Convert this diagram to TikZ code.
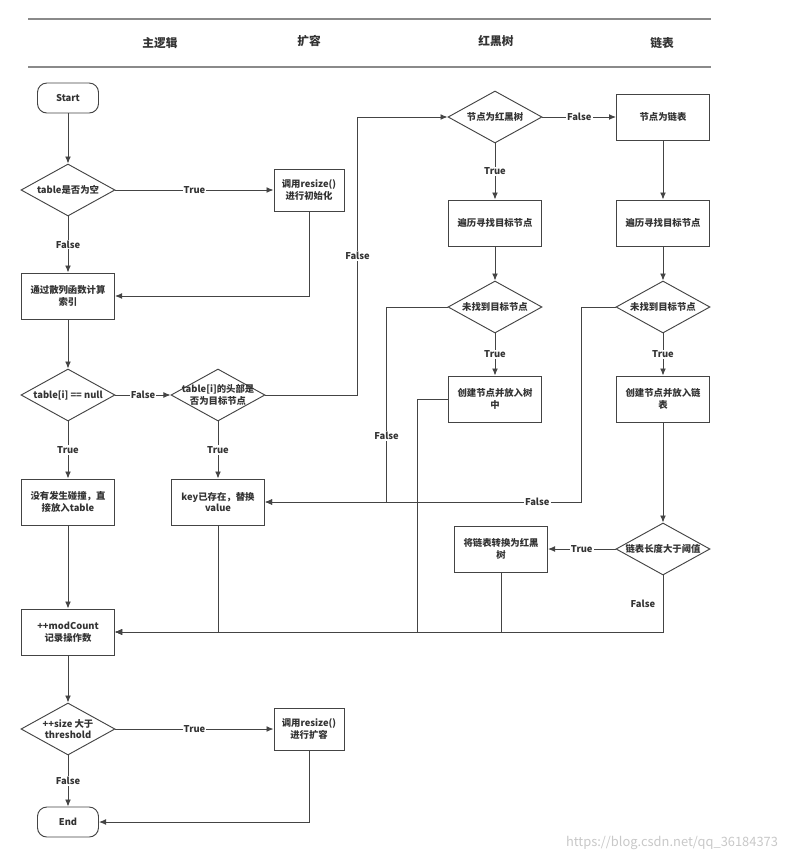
\documentclass[tikz,border=0pt]{standalone}
\usepackage{fontspec}
\setmainfont{Noto Sans CJK SC}
\usetikzlibrary{shapes.geometric, arrows.meta}
\definecolor{linegray}{HTML}{444444}
\definecolor{rulegray}{HTML}{8A8A8A}
\definecolor{markgray}{HTML}{C8C8C8}

\begin{document}
\begin{tikzpicture}[x=0.03cm, y=-0.03cm,
  every node/.style={font=\fontsize{8}{10}\selectfont\bfseries, text=black!80},
  lane/.style={font=\fontsize{10}{12}\selectfont\bfseries},
  terminal/.style={draw=linegray, line width=0.8pt, rounded corners=8pt, minimum width=1.83cm, minimum height=0.9cm},
  process/.style={draw=linegray, line width=0.8pt, align=center, minimum width=2.79cm, minimum height=1.38cm, inner sep=2pt},
  small process/.style={process, minimum width=2.1cm, minimum height=1.26cm},
  decision/.style={diamond, draw=linegray, line width=0.8pt, minimum width=2.82cm, minimum height=1.56cm, inner sep=0pt},
  dtext/.style={align=center},
  flow/.style={draw=linegray, line width=0.8pt, -{Latex[length=6pt, width=5pt]}},
  cond/.style={fill=white, inner sep=1pt}
]
\useasboundingbox (0,0) rectangle (802,863);

\draw[rulegray, line width=0.9pt] (28,19) -- (711,19);
\draw[rulegray, line width=0.9pt] (28,67) -- (711,67);
\node[lane] (lmain) at (160,43) {主逻辑};
\node[lane] (lresize) at (309,41) {扩容};
\node[lane] (ltree) at (496,41) {红黑树};
\node[lane] (llist) at (662,43) {链表};

\node[terminal] (start) at (68,98) {Start};
\node[decision, label={[dtext]center:{table是否为空}}] (isempty) at (68,190) {};
\node[small process] (init) at (309,190) {调用resize()\\进行初始化};
\node[process] (hash) at (68,296) {通过散列函数计算\\索引};
\node[decision, label={[dtext]center:{table[i] == null}}] (isnull) at (68,395) {};
\node[decision, label={[dtext]center:{table[i]的头部是\\否为目标节点}}] (ishead) at (218,395) {};
\node[process] (direct) at (68,502) {没有发生碰撞，直\\接放入table};
\node[process] (replace) at (218,502) {key已存在，替换\\value};
\node[process] (modcount) at (68,632) {++modCount\\记录操作数};
\node[decision, label={[dtext]center:{++size 大于\\threshold}}] (oversize) at (68,729) {};
\node[small process] (expand) at (309,729) {调用resize()\\进行扩容};
\node[terminal] (end) at (68,822) {End};

\node[decision, label={[dtext]center:{节点为红黑树}}] (istree) at (495,117) {};
\node[process] (islist) at (663,117) {节点为链表};
\node[process] (treewalk) at (495,223) {遍历寻找目标节点};
\node[decision, label={[dtext]center:{未找到目标节点}}] (treemiss) at (495,307) {};
\node[process] (treeput) at (495,399) {创建节点并放入树\\中};
\node[process] (listwalk) at (663,223) {遍历寻找目标节点};
\node[decision, label={[dtext]center:{未找到目标节点}}] (listmiss) at (663,307) {};
\node[process] (listput) at (663,399) {创建节点并放入链\\表};
\node[decision, label={[dtext]center:{链表长度大于阈值}}] (toolong) at (663,549) {};
\node[process] (treeify) at (501,549) {将链表转换为红黑\\树};

\draw[flow] (start) -- (isempty);
\draw[flow] (isempty) -- (init) node[cond, midway] {True};
\draw[flow] (isempty) -- (hash) node[cond, midway] {False};
\draw[flow] (init) |- (hash);
\draw[flow] (hash) -- (isnull);
\draw[flow] (isnull) -- (ishead) node[cond, midway] {False};
\draw[flow] (isnull) -- (direct) node[cond, midway] {True};
\draw[flow] (ishead) -- (replace) node[cond, midway] {True};
\draw[flow] (ishead.east) -- ++(92,0) -- ++(0,-278) node[cond, midway] {False} -- (istree.west);

\draw[flow] (istree) -- (islist) node[cond, midway] {False};
\draw[flow] (istree) -- (treewalk) node[cond, midway] {True};
\draw[flow] (treewalk) -- (treemiss);
\draw[flow] (treemiss) -- (treeput) node[cond, midway] {True};
\draw[flow] (treemiss.west) -- ++(-61,0) |- (replace.east) node[cond, pos=0.33] {False};

\draw[flow] (islist) -- (listwalk);
\draw[flow] (listwalk) -- (listmiss);
\draw[flow] (listmiss) -- (listput) node[cond, midway] {True};
\draw[flow] (listmiss.west) -- ++(-34,0) |- (replace.east) node[cond, pos=0.57] {False};
\draw[flow] (listput) -- (toolong);
\draw[flow] (toolong) -- (treeify) node[cond, midway] {True};

\draw[flow] (direct) -- (modcount);
\draw[flow] (replace) |- (modcount);
\draw[flow] (treeput.west) -- ++(-31,0) |- (modcount.east);
\draw[flow] (treeify) |- (modcount);
\draw[flow] (toolong) |- (modcount) node[left=3pt, pos=0.25] {False};
\draw[flow] (modcount) -- (oversize);
\draw[flow] (oversize) -- (expand) node[cond, midway] {True};
\draw[flow] (oversize) -- (end) node[cond, midway] {False};
\draw[flow] (expand) |- (end);

\node[text=markgray, font=\fontsize{11}{13}\selectfont] (mark) at (672,843) {https://blog.csdn.net/qq\_36184373};
\end{tikzpicture}
\end{document}
